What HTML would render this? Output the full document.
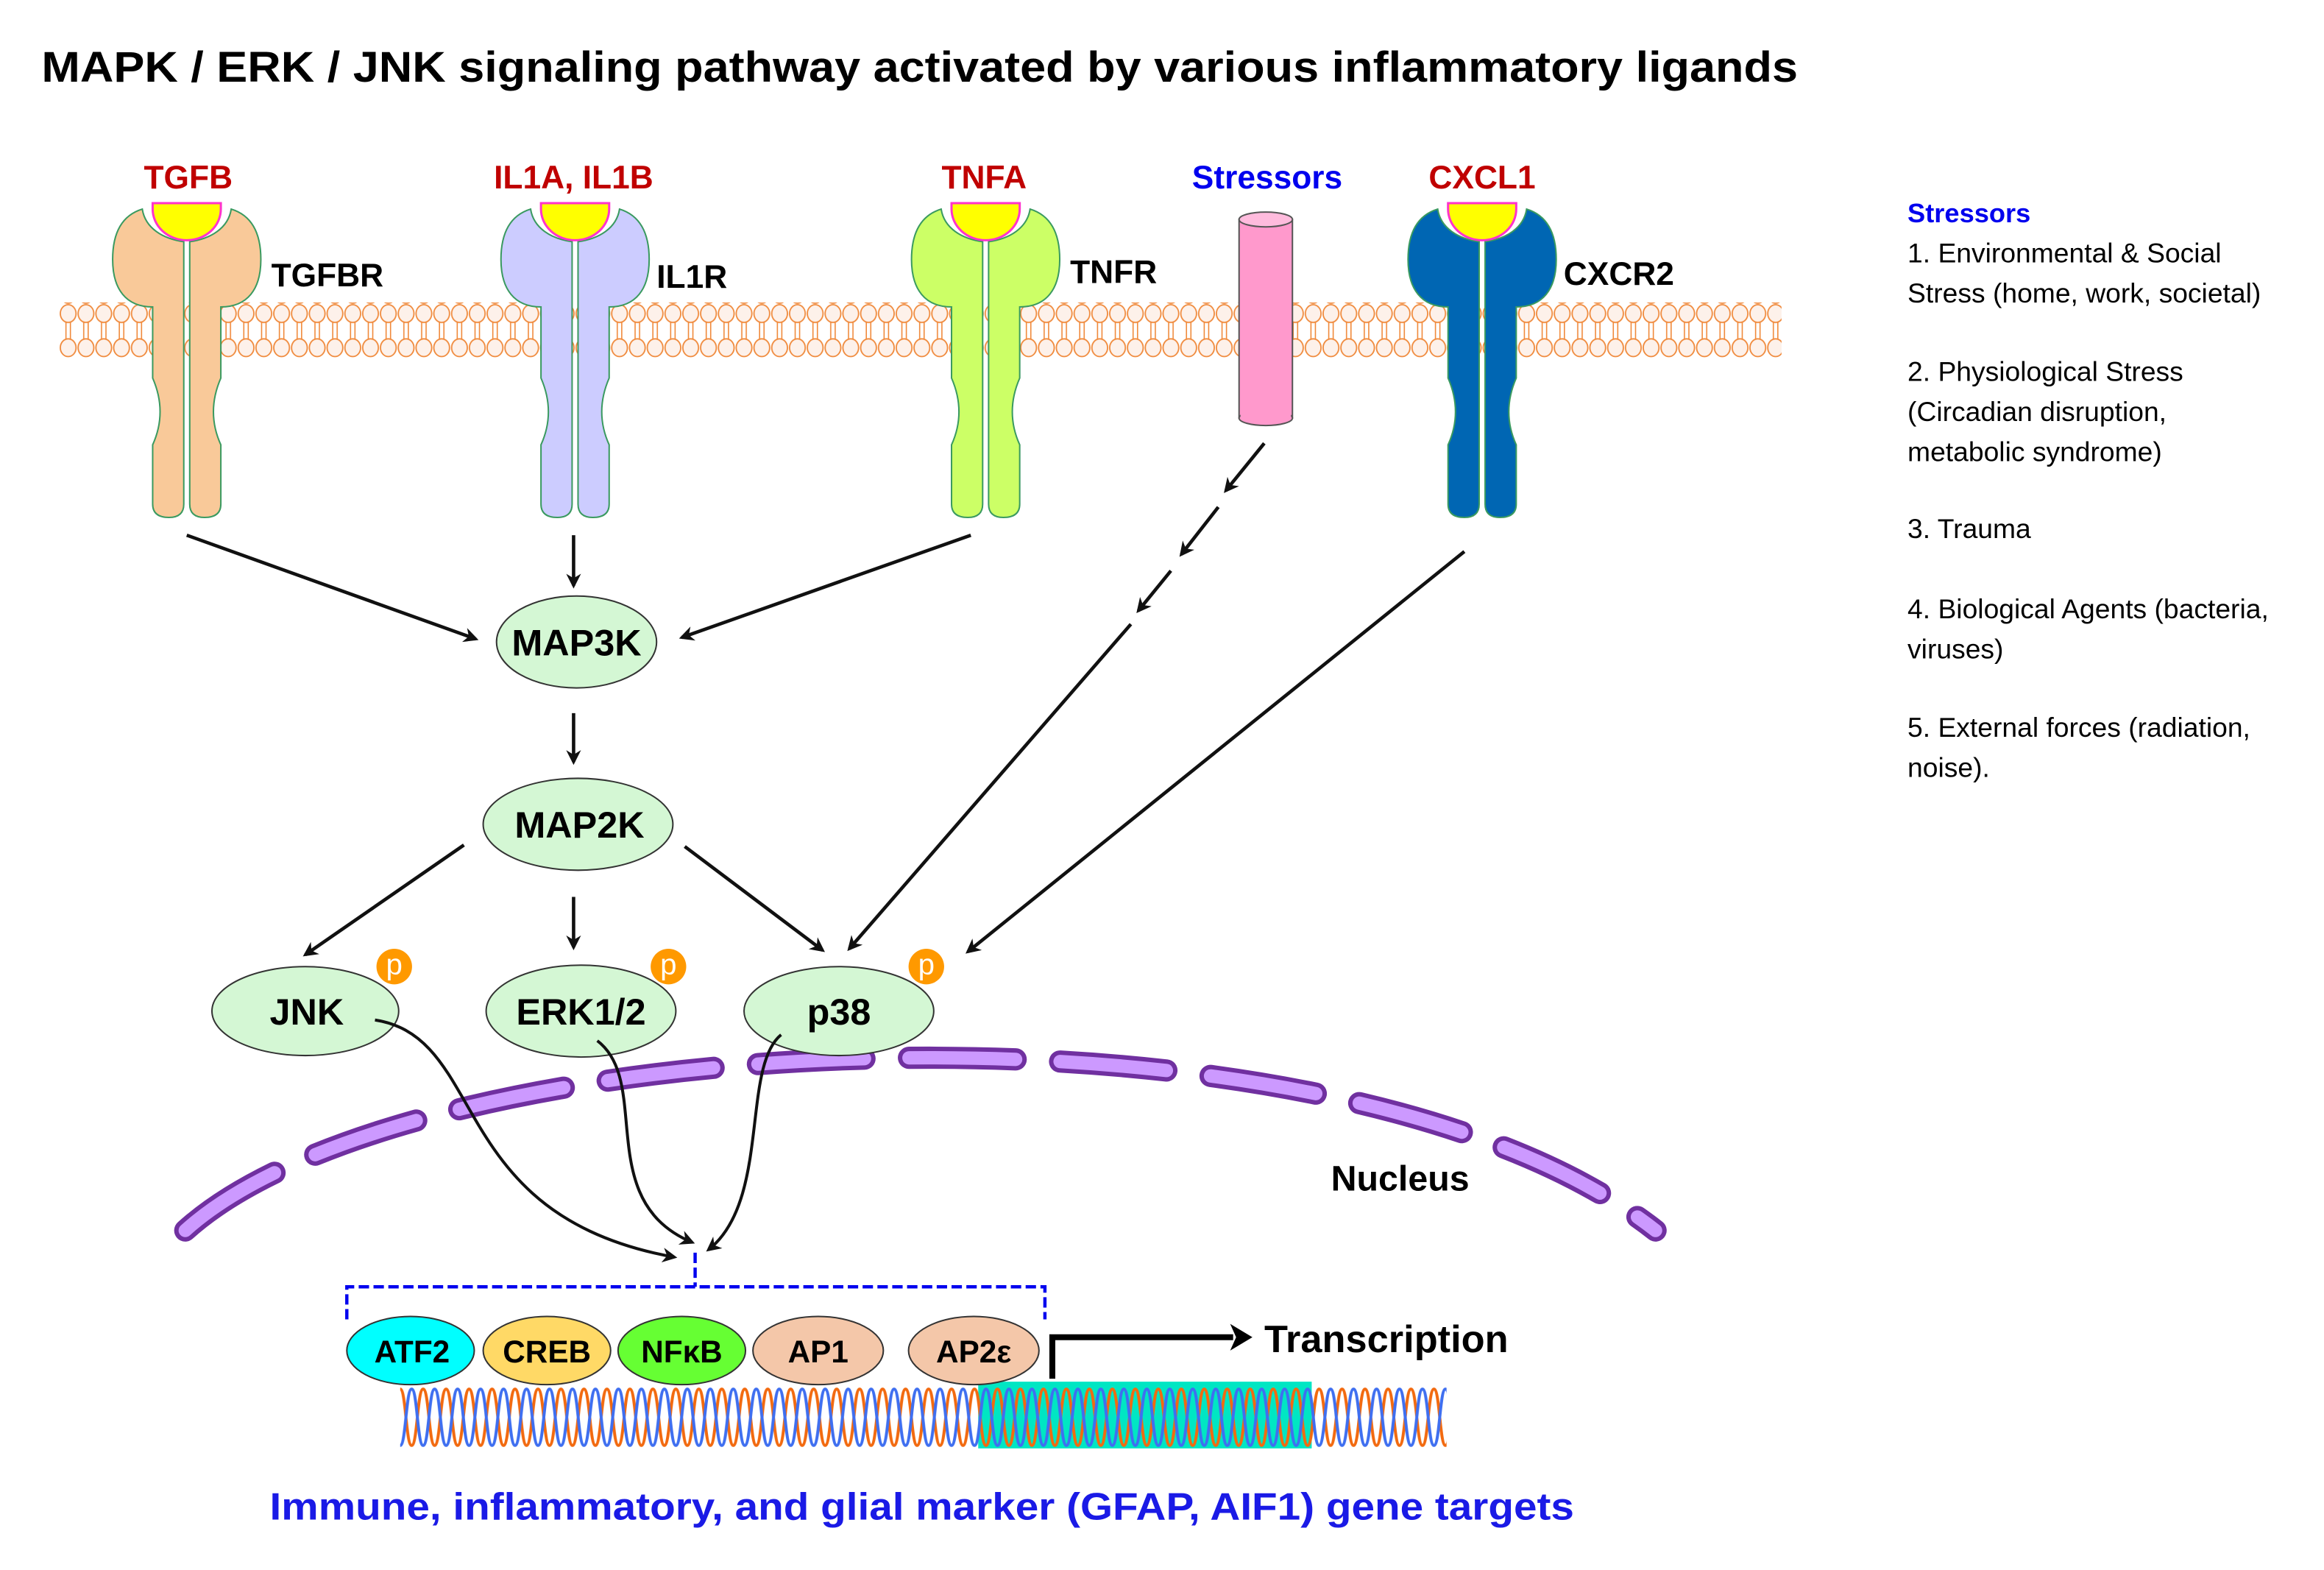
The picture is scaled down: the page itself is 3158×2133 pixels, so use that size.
<!DOCTYPE html>
<html><head><meta charset="utf-8"><style>
html,body{margin:0;padding:0;background:#fff}
svg{display:block}
text{font-family:"Liberation Sans",sans-serif}
.b{font-weight:bold}
</style></head><body>
<svg width="3158" height="2133" viewBox="0 0 1568 1059" xmlns="http://www.w3.org/2000/svg">
<defs>
<pattern id="lip" x="40" y="205" width="12" height="36" patternUnits="userSpaceOnUse">
<line x1="4.5" y1="11" x2="4.5" y2="25" stroke="#f08a3c" stroke-width="0.8"/>
<line x1="7.5" y1="11" x2="7.5" y2="25" stroke="#f08a3c" stroke-width="0.8"/>
<ellipse cx="6" cy="6.5" rx="5.3" ry="6" fill="#fdf1ea" stroke="#f08a3c" stroke-width="0.9"/>
<ellipse cx="6" cy="29.5" rx="5.3" ry="6" fill="#fdf1ea" stroke="#f08a3c" stroke-width="0.9"/>
</pattern>
<pattern id="dna" x="270" y="935" width="15.5" height="42" patternUnits="userSpaceOnUse">
<path d="M0,2 C3.9,2 3.9,40 7.75,40 C11.6,40 11.6,2 15.5,2" fill="none" stroke="#f26a10" stroke-width="2"/>
<path d="M0,40 C3.9,40 3.9,2 7.75,2 C11.6,2 11.6,40 15.5,40" fill="none" stroke="#3f6ff0" stroke-width="2"/>
</pattern>
<marker id="ah" markerWidth="10" markerHeight="10" refX="8" refY="5" orient="auto" markerUnits="userSpaceOnUse">
<path d="M0,0 L10,5 L0,10 L3,5 Z" fill="#111"/>
</marker>
<g id="rl">
<path d="M -2,163 L -2,340 Q -2,349 -12,349 Q -23,349 -23,340 L -23,300 Q -13,278 -23,255 L -23,207 C -41,207 -50,195 -50,175 C -50,156 -43,145 -30,141 C -28,154 -16,161 -2,163 Z" stroke="#3a9a60" stroke-width="1"/>
</g>
<g id="lig">
<path d="M -23,137 L 23,137 L 23,141 A 23,21 0 0 1 -23,141 Z" fill="#ffff00" stroke="#ff33cc" stroke-width="1.5"/>
</g>
</defs>

<text x="28" y="55" class="b" font-size="29" textLength="1185" lengthAdjust="spacingAndGlyphs">MAPK / ERK / JNK signaling pathway activated by various inflammatory ligands</text>

<rect x="40" y="204" width="1162" height="37" fill="url(#lip)"/>

<g transform="translate(126,0)" fill="#f9c999"><use href="#rl"/><use href="#rl" transform="scale(-1,1)"/><use href="#lig"/></g>
<g transform="translate(388,0)" fill="#ccccff"><use href="#rl"/><use href="#rl" transform="scale(-1,1)"/><use href="#lig"/></g>
<g transform="translate(665,0)" fill="#ccff66"><use href="#rl"/><use href="#rl" transform="scale(-1,1)"/><use href="#lig"/></g>
<g transform="translate(1000,0)" fill="#0066b3"><use href="#rl"/><use href="#rl" transform="scale(-1,1)"/><use href="#lig"/></g>

<rect x="836" y="148" width="36" height="134" fill="#ff99cc" stroke="#555" stroke-width="1"/>
<ellipse cx="854" cy="282" rx="18" ry="5" fill="#ff99cc" stroke="#555" stroke-width="1"/>
<rect x="837" y="148" width="34" height="133" fill="#ff99cc"/>
<ellipse cx="854" cy="148" rx="18" ry="5" fill="#ffbbdd" stroke="#555" stroke-width="1"/>

<g class="b" font-size="22" text-anchor="middle">
<text x="127" y="127" fill="#c00000">TGFB</text>
<text x="387" y="127" fill="#c00000">IL1A, IL1B</text>
<text x="664" y="127" fill="#c00000">TNFA</text>
<text x="855" y="127" fill="#0000ee">Stressors</text>
<text x="1000" y="127" fill="#c00000">CXCL1</text>
</g>
<g class="b" font-size="22">
<text x="183" y="193">TGFBR</text>
<text x="443" y="194">IL1R</text>
<text x="722" y="191">TNFR</text>
<text x="1055" y="192">CXCR2</text>
</g>

<g stroke="#111" stroke-width="2.3" fill="none" marker-end="url(#ah)">
<line x1="126" y1="361" x2="321" y2="431"/>
<line x1="387" y1="361" x2="387" y2="395"/>
<line x1="655" y1="361" x2="460" y2="430"/>
<line x1="387" y1="481" x2="387" y2="514"/>
<line x1="313" y1="570" x2="206" y2="644"/>
<line x1="387" y1="605" x2="387" y2="639"/>
<line x1="462" y1="571" x2="555" y2="641"/>
<line x1="853" y1="299" x2="827" y2="331"/>
<line x1="822" y1="342" x2="797" y2="374"/>
<line x1="790" y1="385" x2="768" y2="412"/>
<line x1="763" y1="421" x2="573" y2="640"/>
<line x1="988" y1="372" x2="653" y2="642"/>
</g>

<path d="M125,830 C 280,690 900,660 1117,830" fill="none" stroke="#7030a0" stroke-width="15" stroke-linecap="round" stroke-dasharray="72 30"/>
<path d="M125,830 C 280,690 900,660 1117,830" fill="none" stroke="#cc99ff" stroke-width="9" stroke-linecap="round" stroke-dasharray="72 30"/>
<text x="898" y="803" class="b" font-size="24">Nucleus</text>

<g fill="#d4f7d4" stroke="#333" stroke-width="1">
<ellipse cx="389" cy="433" rx="54" ry="31"/>
<ellipse cx="390" cy="556" rx="64" ry="31"/>
<ellipse cx="206" cy="682" rx="63" ry="30"/>
<ellipse cx="392" cy="682" rx="64" ry="31"/>
<ellipse cx="566" cy="682" rx="64" ry="30"/>
</g>
<g class="b" font-size="25" text-anchor="middle">
<text x="389" y="442">MAP3K</text>
<text x="391" y="565">MAP2K</text>
<text x="207" y="691">JNK</text>
<text x="392" y="691">ERK1/2</text>
<text x="566" y="691">p38</text>
</g>
<g fill="#ff9900"><circle cx="266" cy="652" r="12"/><circle cx="451" cy="652" r="12"/><circle cx="625" cy="652" r="12"/></g>
<g fill="#fff" font-size="20" text-anchor="middle"><text x="266" y="657">p</text><text x="451" y="657">p</text><text x="625" y="657">p</text></g>

<g stroke="#111" stroke-width="2" fill="none" marker-end="url(#ah)">
<path d="M253,688 C 330,700 300,820 455,848"/>
<path d="M403,702 C 440,730 400,810 467,838"/>
<path d="M527,698 C 500,720 520,810 478,843"/>
</g>

<path d="M234,890 L234,868 L705,868 L705,890 M469,845 L469,868" fill="none" stroke="#0000ee" stroke-width="2.2" stroke-dasharray="7 3"/>

<rect x="660" y="932" width="225" height="45" fill="#00e6c3"/>
<rect x="270" y="935" width="706" height="42" fill="url(#dna)"/>

<g stroke="#333" stroke-width="1">
<ellipse cx="277" cy="911" rx="43" ry="23" fill="#00ffff"/>
<ellipse cx="369" cy="911" rx="43" ry="23" fill="#ffd966"/>
<ellipse cx="460" cy="911" rx="43" ry="23" fill="#66ff33"/>
<ellipse cx="552" cy="911" rx="44" ry="23" fill="#f4c7a9"/>
<ellipse cx="657" cy="911" rx="44" ry="23" fill="#f4c7a9"/>
</g>
<g class="b" font-size="21" text-anchor="middle">
<text x="278" y="919">ATF2</text>
<text x="369" y="919">CREB</text>
<text x="460" y="919">NFκB</text>
<text x="552" y="919">AP1</text>
<text x="657" y="919">AP2ε</text>
</g>
<path d="M710,930 L710,902 L832,902" fill="none" stroke="#000" stroke-width="4"/>
<path d="M830,893 L845,902 L830,911 L834,902 Z" fill="#000"/>
<text x="853" y="912" class="b" font-size="26">Transcription</text>

<text x="182" y="1025" class="b" font-size="26" fill="#1a1ae6" textLength="880" lengthAdjust="spacingAndGlyphs">Immune, inflammatory, and glial marker (GFAP, AIF1) gene targets</text>

<text x="1287" y="150" class="b" font-size="18" fill="#0000ee">Stressors</text>
<g font-size="18.5">
<text x="1287" y="177">1. Environmental &amp; Social</text>
<text x="1287" y="204">Stress (home, work, societal)</text>
<text x="1287" y="257">2. Physiological Stress</text>
<text x="1287" y="284">(Circadian disruption,</text>
<text x="1287" y="311">metabolic syndrome)</text>
<text x="1287" y="363">3. Trauma</text>
<text x="1287" y="417">4. Biological Agents (bacteria,</text>
<text x="1287" y="444">viruses)</text>
<text x="1287" y="497">5. External forces (radiation,</text>
<text x="1287" y="524">noise).</text>
</g>
</svg>
</body></html>
